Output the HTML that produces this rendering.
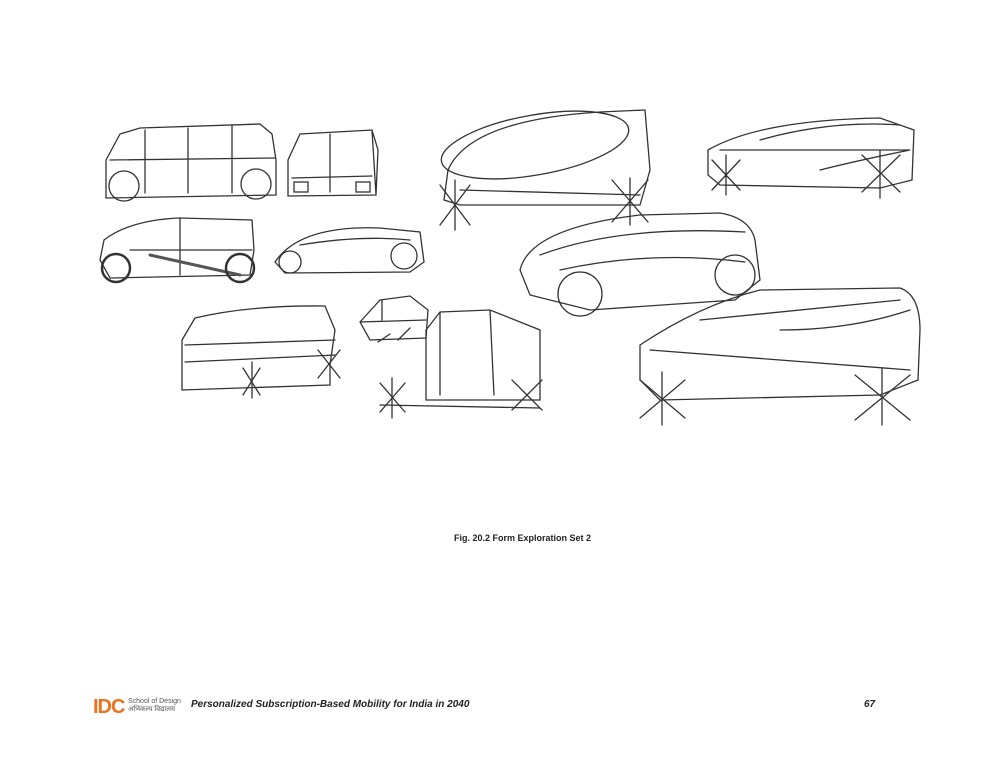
<!DOCTYPE html>
<html><head><meta charset="utf-8"><style>
body{margin:0;background:#fff;width:1000px;height:773px;position:relative;overflow:hidden;font-family:"Liberation Sans",sans-serif}
svg{position:absolute;left:0;top:0}
.t{position:absolute;white-space:nowrap}
</style></head><body>
<svg width="1000" height="773" fill="none" stroke="#333" stroke-width="1.3" stroke-linecap="round">
<!-- van 1 -->
<path d="M106 160 L120 134 L140 128 L260 124 L272 134 L276 160 L276 195 L106 198 Z"/>
<path d="M145 130 L145 193 M188 128 L188 193 M232 125 L232 193 M110 160 L275 158"/>
<circle cx="124" cy="186" r="15"/><circle cx="256" cy="184" r="15"/>
<!-- van 2 -->
<path d="M288 160 L300 134 L372 130 L376 195 L288 196 Z M330 134 L330 192 M372 130 L378 150 L376 195"/>
<path d="M292 178 L372 176"/><rect x="294" y="182" width="14" height="10"/><rect x="356" y="182" width="14" height="10"/>
<!-- pod top center -->
<path d="M444 200 L448 170 Q470 120 600 112 L645 110 L650 170 L640 205 L460 205 Z"/>
<ellipse cx="535" cy="145" rx="95" ry="30" transform="rotate(-10 535 145)"/>
<path d="M460 190 L640 195 M440 185 L470 225 M470 185 L440 225 M455 180 L455 230 M612 180 L648 222 M648 180 L612 222 M630 178 L630 225"/>
<!-- top right -->
<path d="M708 150 Q760 120 880 118 L914 130 L912 180 L880 188 L720 185 L708 175 Z"/>
<path d="M760 140 Q830 120 900 125 M720 150 L910 150 Q860 160 820 170"/>
<path d="M712 160 L740 190 M740 160 L712 190 M726 155 L726 195 M862 155 L900 192 M900 155 L862 192 M880 150 L880 198"/>
<!-- row 2 left -->
<path d="M100 260 L104 240 Q130 220 180 218 L252 220 L254 250 L250 275 L110 278 Z M180 218 L180 275 M130 250 L252 250"/>
<path d="M150 255 L240 275" stroke-width="3" stroke="#555"/>
<circle cx="116" cy="268" r="14" stroke-width="2.5"/><circle cx="240" cy="268" r="14" stroke-width="2.5"/>
<path d="M275 262 Q300 225 380 228 L420 232 L424 262 L410 272 L285 273 Z M300 245 Q360 235 410 240"/>
<circle cx="290" cy="262" r="11"/><circle cx="404" cy="256" r="13"/>
<!-- middle big -->
<path d="M520 270 Q530 228 640 215 L720 213 Q750 218 755 240 L760 280 L735 300 L590 310 L530 295 Z"/>
<path d="M540 255 Q620 225 745 232 M560 270 Q650 250 745 262"/>
<circle cx="580" cy="294" r="22"/><circle cx="735" cy="275" r="20"/>
<!-- bottom left -->
<path d="M182 340 L195 318 Q250 305 325 306 L335 330 L330 365 L330 385 L182 390 Z M185 345 L335 340 M185 362 L335 355"/>
<path d="M243 368 L260 395 M260 368 L243 395 M252 362 L252 398 M318 350 L340 378 M340 350 L318 378"/>
<!-- small truck -->
<path d="M360 322 L380 300 L410 296 L428 310 L426 338 L370 340 Z M382 300 L382 320 M360 322 L426 320"/>
<path d="M378 342 L390 334 M398 340 L410 328"/>
<!-- box truck -->
<path d="M426 330 L440 312 L490 310 L540 330 L540 400 L426 400 Z M440 312 L440 395 M490 310 L494 395"/>
<path d="M380 405 L540 408 M380 383 L405 412 M405 383 L380 412 M392 378 L392 418 M512 380 L542 410 M542 380 L512 410"/>
<!-- big right -->
<path d="M640 345 Q700 305 760 290 L900 288 Q920 295 920 330 L918 380 L880 395 L660 400 L640 380 Z"/>
<path d="M700 320 L900 300 M650 350 L910 370 M780 330 Q850 330 910 310"/>
<path d="M640 380 L685 418 M685 380 L640 418 M662 372 L662 425 M855 375 L910 420 M910 375 L855 420 M882 368 L882 425"/>
</svg>
<div class="t" style="left:454px;top:533px;font-size:9px;font-weight:bold;color:#222">Fig. 20.2 Form Exploration Set 2</div>
<div class="t" style="left:93px;top:696px;font-size:20px;font-weight:bold;color:#e8731c;letter-spacing:-1px">IDC</div>
<div class="t" style="left:128px;top:698px;font-size:7px;color:#555;line-height:8px">School of Design<br>अभिकल्प विद्यालय</div>
<div class="t" style="left:191px;top:699px;font-size:10px;font-style:italic;font-weight:bold;color:#222">Personalized Subscription-Based Mobility for India in 2040</div>
<div class="t" style="left:864px;top:699px;font-size:10px;font-style:italic;font-weight:bold;color:#222">67</div>
</body></html>
